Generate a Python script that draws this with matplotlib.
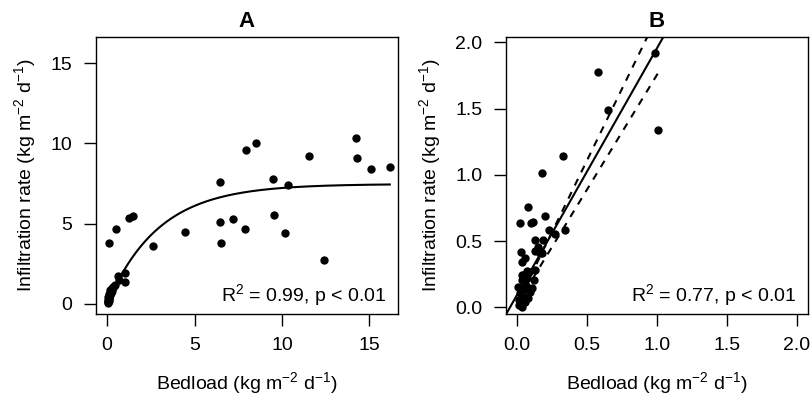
import numpy as np
import matplotlib
matplotlib.use('Agg')
import matplotlib.pyplot as plt

plt.rcParams['font.family'] = ['Liberation Sans', 'DejaVu Sans']
plt.rcParams['mathtext.fontset'] = 'custom'
plt.rcParams['mathtext.rm'] = 'Liberation Sans'
plt.rcParams['mathtext.it'] = 'Liberation Sans:italic'
plt.rcParams['mathtext.bf'] = 'Liberation Sans:bold'

# panel A: bedload vs infiltration (kg m-2 d-1)
a_x = [0.08, 0.53, 1.24, 1.47, 2.61, 4.45, 6.43, 6.45, 6.53, 7.19, 7.86, 7.97,
       8.51, 9.48, 9.55, 10.20, 10.37, 11.55, 12.41, 14.25, 14.27, 15.07, 16.17,
       0.63, 1.01, 1.01, 0.67,
       0.02, 0.03, 0.05, 0.04, 0.08, 0.06, 0.10, 0.12, 0.10, 0.15, 0.20, 0.18,
       0.25, 0.30, 0.35, 0.40, 0.30, 0.22, 0.45, 0.15, 0.08, 0.12]
a_y = [3.79, 4.68, 5.34, 5.50, 3.60, 4.45, 7.61, 5.11, 3.79, 5.26, 4.66, 9.56,
       10.01, 7.80, 5.52, 4.41, 7.41, 9.23, 2.75, 10.35, 9.12, 8.42, 8.50,
       1.76, 1.92, 1.34, 1.49,
       0.02, 0.10, 0.15, 0.25, 0.30, 0.40, 0.50, 0.45, 0.60, 0.70, 0.75, 0.85,
       0.90, 1.00, 1.05, 1.10, 0.80, 0.65, 1.20, 0.55, 0.20, 0.35]
# fitted asymptotic curve y = a * (1 - exp(-b x))
a_fit_a = 7.47
a_fit_b = 0.34

# panel B
b_x = [0.988, 0.579, 0.648, 1.010, 0.329, 0.179, 0.079, 0.019, 0.098, 0.110,
       0.200, 0.224, 0.269, 0.340, 0.129, 0.186, 0.150, 0.126, 0.162, 0.179,
       0.029, 0.057, 0.038, 0.126, 0.067, 0.033, 0.121, 0.107,
       0.007, 0.019, 0.024, 0.014, 0.043, 0.067, 0.079, 0.055, 0.031, 0.067,
       0.043, 0.090, 0.014, 0.031, 0.055, 0.071, 0.086, 0.043]
b_y = [1.917, 1.779, 1.488, 1.338, 1.139, 1.016, 0.758, 0.637, 0.640, 0.647,
       0.688, 0.587, 0.550, 0.587, 0.507, 0.507, 0.457, 0.427, 0.414, 0.407,
       0.419, 0.376, 0.339, 0.281, 0.276, 0.243, 0.206, 0.148,
       0.156, 0.105, 0.030, 0.055, 0.068, 0.080, 0.068, 0.181, 0.206, 0.218,
       0.130, 0.118, 0.018, 0.005, 0.043, 0.156, 0.268, 0.243]
# regression line and dashed bounds (start/end points)
b_fit_x = [-0.2, 1.2]
b_fit_y = [0.096 - 1.86 * 0.2, 0.096 + 1.86 * 1.2]
b_up_x = [0.0, 1.01]
b_up_y = [0.030, 0.030 + 2.16 * 1.01]
b_lo_x = [0.0, 1.01]
b_lo_y = [0.025, 0.025 + 1.73 * 1.01]

xlab = 'Bedload (kg m$^{-2}$ d$^{-1}$)'
ylab = 'Infiltration rate (kg m$^{-2}$ d$^{-1}$)'
fs = 14

fig = plt.figure(figsize=(8.12, 4.01), dpi=100)
axA = fig.add_axes([96/812, 1 - 314/401, 302/812, 277/401])
axB = fig.add_axes([506/812, 1 - 314/401, 302/812, 277/401])

for ax in (axA, axB):
    for s in ax.spines.values():
        s.set_linewidth(1.0)
        s.set_color('black')
    ax.tick_params(direction='out', length=8.9, width=1.0, pad=8,
                   labelsize=fs, colors='black')
    ax.set_xlabel(xlab, fontsize=fs, labelpad=11)
    ax.set_ylabel(ylab, fontsize=fs, labelpad=9)

# A
axA.plot(a_x, a_y, 'o', color='black', ms=6, mec='none')
xx = np.linspace(0, max(a_x), 200)
axA.plot(xx, a_fit_a * (1 - np.exp(-a_fit_b * xx)), color='black', lw=1.5)
axA.set_xlim(-0.64, 16.64)
axA.set_ylim(-0.64, 16.64)
axA.set_xticks([0, 5, 10, 15])
axA.set_yticks([0, 5, 10, 15])
axA.set_title('A', fontsize=16, fontweight='bold', pad=7)
axA.text(0.962, 0.045, 'R$^2$ = 0.99, p < 0.01', transform=axA.transAxes,
         ha='right', va='baseline', fontsize=fs)

# B
axB.plot(b_x, b_y, 'o', color='black', ms=6, mec='none')
axB.plot(b_fit_x, b_fit_y, color='black', lw=1.5)
axB.plot(b_up_x, b_up_y, color='black', lw=1.5, dashes=(3.5, 3.5))
axB.plot(b_lo_x, b_lo_y, color='black', lw=1.5, dashes=(3.5, 3.5))
axB.set_xlim(-0.08, 2.08)
axB.set_ylim(-0.05, 2.04)
axB.set_xticks([0, 0.5, 1.0, 1.5, 2.0])
axB.set_xticklabels(['0.0', '0.5', '1.0', '1.5', '2.0'])
axB.set_yticks([0, 0.5, 1.0, 1.5, 2.0])
axB.set_yticklabels(['0.0', '0.5', '1.0', '1.5', '2.0'])
axB.set_title('B', fontsize=16, fontweight='bold', pad=7)
axB.text(0.962, 0.045, 'R$^2$ = 0.77, p < 0.01', transform=axB.transAxes,
         ha='right', va='baseline', fontsize=fs)

fig.savefig('out.png', dpi=100)
